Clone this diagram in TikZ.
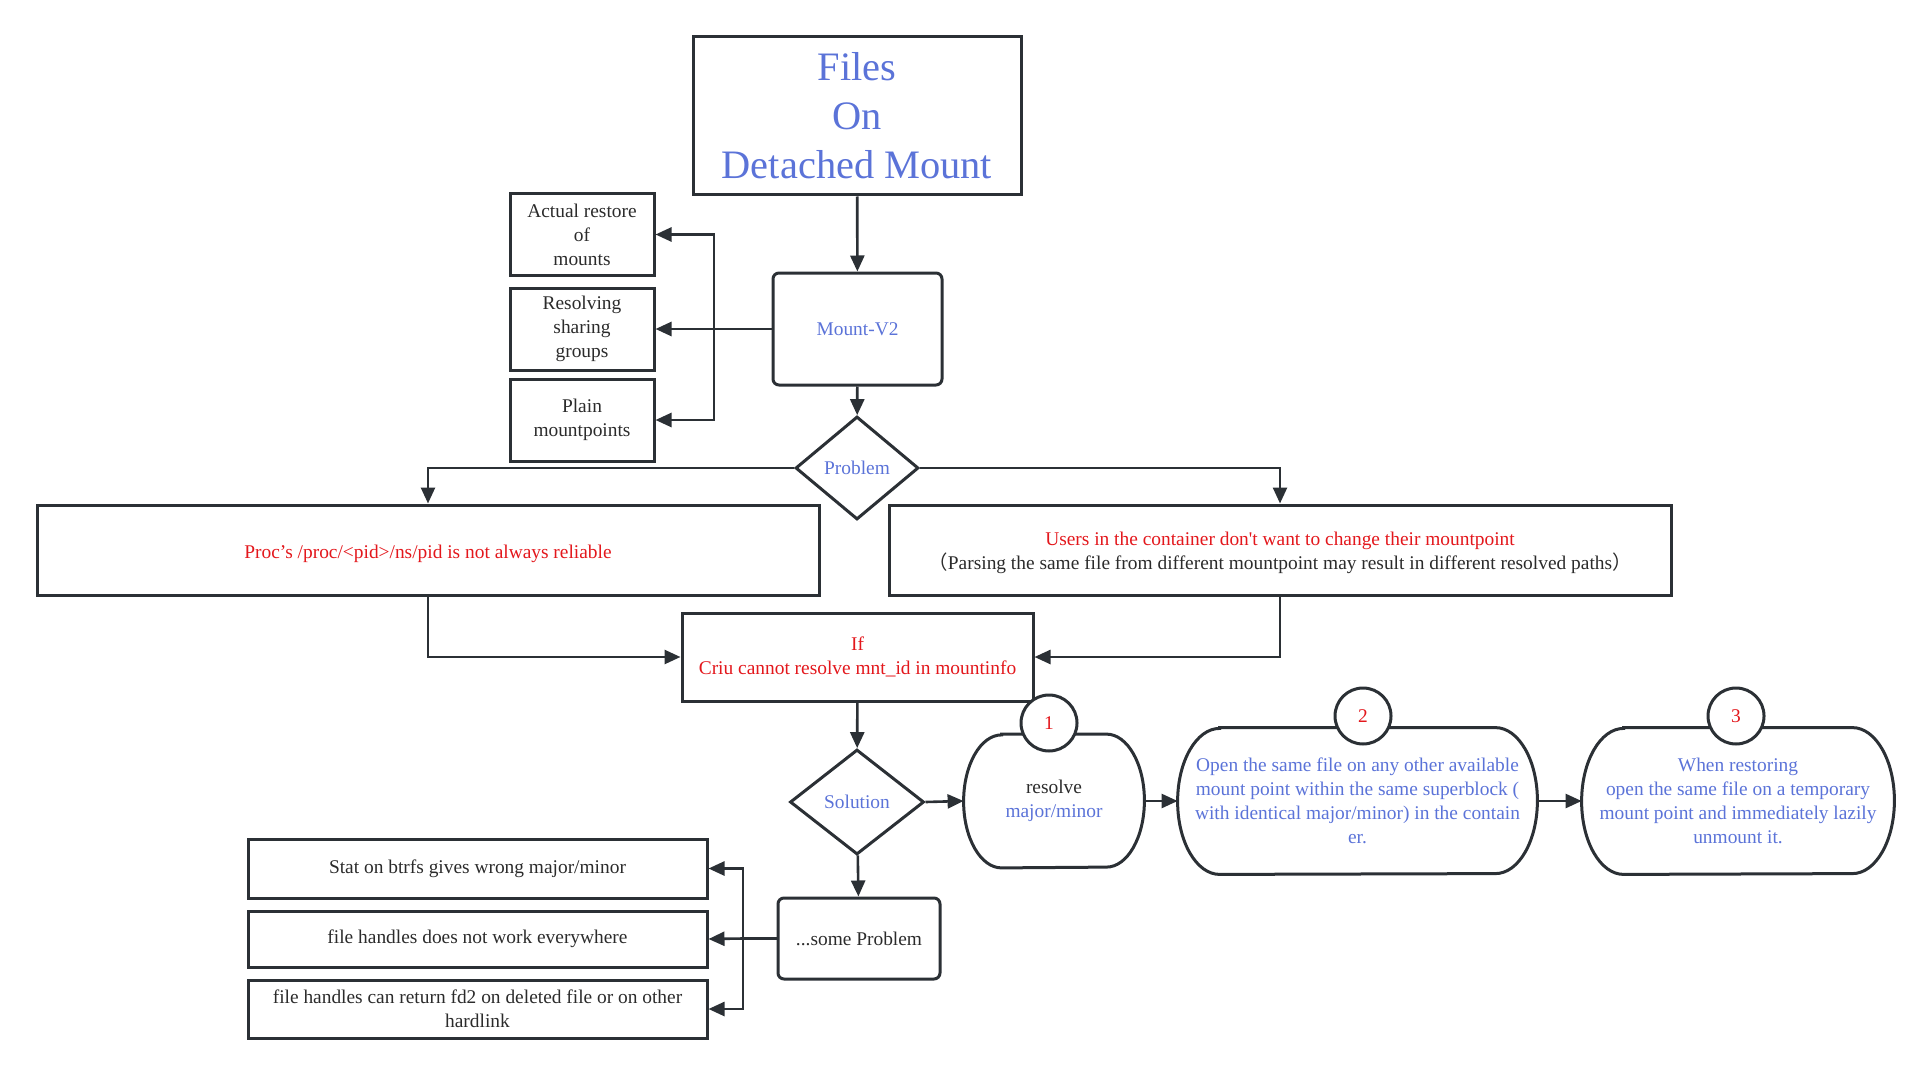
\documentclass[tikz,border=0pt]{standalone}
\usepackage{fontspec}
\setmainfont{Liberation Serif}
\newfontfamily\cjk{Noto Sans CJK SC}
\usetikzlibrary{shapes.geometric,arrows.meta}

\definecolor{inkline}{HTML}{2B3035}
\definecolor{txtblue}{HTML}{5B73D8}
\definecolor{txtred}{HTML}{E3171C}
\definecolor{txtdark}{HTML}{2B2B2B}

\newcommand{\bodyfont}{\fontsize{9.7}{12}\selectfont}
\newcommand{\lowertext}[2]{\raisebox{-#1}[\height][\depth]{#2}}

\tikzset{
  box/.style={draw=inkline, line width=1.5pt, inner sep=2pt, align=center, text=txtdark, font=\bodyfont},
  decision/.style={diamond, draw=inkline, line width=1.5pt, inner sep=0pt, text=txtblue, font=\bodyfont},
  termnode/.style={inner sep=0pt, align=center, text=txtblue, font=\bodyfont},
  badge/.style={circle, draw=inkline, fill=white, line width=1.5pt, minimum size=28pt, inner sep=0pt, text=txtred, font=\bodyfont},
  arr/.style={draw=inkline, line width=1.3pt, -{Triangle[length=8pt,width=7pt]}}
}

% terminator outline round a node: name, x radius, y radius
\newcommand{\termpath}[3]{%
  \draw[draw=inkline, line width=1.5pt] ([xshift=#2]#1.north west) -- ([xshift=-#2]#1.north east)
    arc[start angle=90, end angle=-90, x radius=#2, y radius=#3]
    -- ([xshift=#2]#1.south west)
    arc[start angle=270, end angle=90, x radius=#2, y radius=#3] -- cycle;}

\begin{document}
\begin{tikzpicture}[x=0.5pt, y=-0.5pt]
\useasboundingbox (0,0) rectangle (1931,1075);

\node[box, minimum width=164pt, minimum height=79pt, text=txtblue, font=\fontsize{20.2}{24.5}\selectfont] (title) at (857,116) {Files\\On\\Detached Mount};
\node[box, rounded corners=3pt, minimum width=84.5pt, minimum height=56pt, text=txtblue] (mount) at (857.5,329) {Mount-V2};

\node[box, minimum width=72pt, minimum height=41pt] (actual) at (582,234.5) {Actual restore\\of\\mounts};
\node[box, minimum width=72pt, minimum height=41pt] (sharing) at (582,329) {Resolving\\sharing\\groups};
\node[box, minimum width=72pt, minimum height=41pt] (plain) at (582,420) {Plain\\mountpoints};

\node[decision, minimum width=61.5pt, minimum height=51.5pt] (problem) at (857,468) {Problem};

\node[box, minimum width=391pt, minimum height=45pt, text=txtred] (procpid) at (428,550) {\lowertext{2pt}{Proc’s /proc/<pid>/ns/pid is not always reliable}};
\node[box, minimum width=391pt, minimum height=45pt] (users) at (1280,550) {\lowertext{1.5pt}{\begin{tabular}{@{}c@{}}\textcolor{txtred}{Users in the container don\textquotesingle t want to change their mountpoint}\\{\cjk （}Parsing the same file from different mountpoint may result in different resolved paths{\cjk ）}\end{tabular}}};

\node[box, minimum width=175.5pt, minimum height=44pt, text=txtred] (ifbox) at (857.5,657) {If\\Criu cannot resolve mnt\_id in mountinfo};

\node[decision, minimum width=67pt, minimum height=52.5pt] (solution) at (857,802) {Solution};
\node[box, rounded corners=3pt, minimum width=81pt, minimum height=40.5pt] (someprob) at (859,938.5) {...some Problem};

\node[box, minimum width=229.5pt, minimum height=29.5pt] (btrfs) at (477.5,868.5) {Stat on btrfs gives wrong major/minor};
\node[box, minimum width=229.5pt, minimum height=28pt] (handles) at (477.5,939) {file handles does not work everywhere};
\node[box, minimum width=229.5pt, minimum height=29pt] (fdtwo) at (477.5,1009) {file handles can return fd2 on deleted file or on other\\hardlink};

\node[termnode, minimum width=90pt, minimum height=66.5pt] (stepone) at (1054,801) {\textcolor{txtdark}{resolve}\\major/minor};
\node[termnode, minimum width=179.5pt, minimum height=73pt] (steptwo) at (1357.5,801) {Open the same file on any other available\\mount point within the same superblock (\\with identical major/minor) in the contain\\er.};
\node[termnode, minimum width=156pt, minimum height=73pt] (stepthree) at (1738,801) {When restoring\\open the same file on a temporary\\mount point and immediately lazily\\unmount it.};
\termpath{stepone}{19pt}{33.25pt}
\termpath{steptwo}{21pt}{36.5pt}
\termpath{stepthree}{21pt}{36.5pt}

\node[badge] (one) at (1049,723) {1};
\node[badge] (two) at (1363,716) {2};
\node[badge] (three) at (1736,716) {3};

\coordinate (mountfork) at (714,329);
\coordinate (probfork) at (743,938.5);

\draw[arr] (title) -- (mount);
\draw[arr] (mount.west) -- (mountfork) |- (actual.east);
\draw[arr] (mountfork) -- (sharing.east);
\draw[arr] (mountfork) |- (plain.east);
\draw[arr] (mount) -- (problem);

\draw[arr] (problem.west) -| (procpid.north);
\draw[arr] (problem.east) -| (users.north);
\draw[arr] (procpid.south) |- (ifbox.west);
\draw[arr] (users.south) |- (ifbox.east);

\draw[arr] (ifbox) -- (solution);
\draw[arr] (solution.east) -- (stepone.west);
\draw[arr] (solution) -- (someprob);
\draw[arr] (stepone.east) -- (steptwo.west);
\draw[arr] (steptwo.east) -- (stepthree.west);

\draw[arr] (someprob.west) -- (probfork) |- (btrfs.east);
\draw[arr] (probfork) -- (handles.east);
\draw[arr] (probfork) |- (fdtwo.east);

\end{tikzpicture}
\end{document}
